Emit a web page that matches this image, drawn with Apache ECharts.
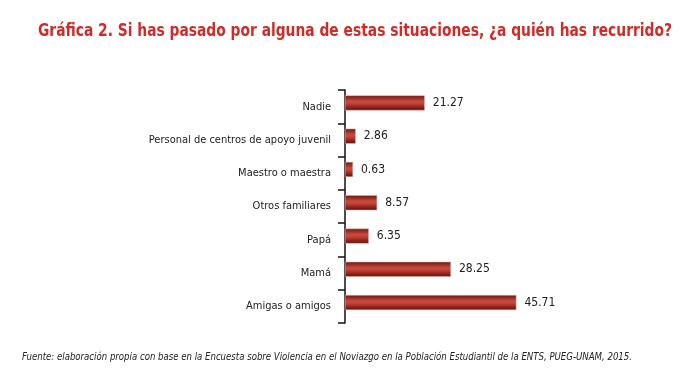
<!DOCTYPE html>
<html><head><meta charset="utf-8">
<script src="https://cdn.jsdelivr.net/npm/echarts@6/dist/echarts.min.js"></script>
<style>html,body{margin:0;padding:0;background:#fff}#c{width:690px;height:381px}</style>
</head><body><div id="c"></div>
<script>
const categories = ['Nadie','Personal de centros de apoyo juvenil','Maestro o maestra','Otros familiares','Papá','Mamá','Amigas o amigos'];
const values = [21.27, 2.86, 0.63, 8.57, 6.35, 28.25, 45.71];
const titleText = 'Gráfica 2. Si has pasado por alguna de estas situaciones, ¿a quién has recurrido?';
const sourceText = 'Fuente: elaboración propia con base en la Encuesta sobre Violencia en el Noviazgo en la Población Estudiantil de la ENTS, PUEG-UNAM, 2015.';

function fitScale(text, font, target){
  const ctx = document.createElement('canvas').getContext('2d');
  ctx.font = font;
  return target / ctx.measureText(text).width;
}
const titleFont = 'bold 17px "DejaVu Sans Condensed"';
const srcFont = 'italic 10px "DejaVu Sans Condensed"';
const titleScale = fitScale(titleText, titleFont, 634);
const srcScale = fitScale(sourceText, srcFont, 610);

const chart = echarts.init(document.getElementById('c'));
const barColor = new echarts.graphic.LinearGradient(0,0,0,1,[
  {offset:0,color:'#6e1410'},
  {offset:0.15,color:'#8e2a22'},
  {offset:0.4,color:'#c94a3e'},
  {offset:0.55,color:'#c24236'},
  {offset:0.8,color:'#8f2219'},
  {offset:1,color:'#5e0f0c'}
]);
chart.setOption({
  animation:false,
  graphic:[{
    type:'text', x:38, y:23, scaleX:titleScale,
    style:{text:titleText, fill:'#d42a27', font:titleFont}
  },{
    type:'text', x:22, y:352, scaleX:srcScale,
    style:{text:sourceText, fill:'#222', font:srcFont}
  }],
  grid:{left:345, top:90, width:187.5, height:233},
  xAxis:{type:'value',min:0,max:50,show:false},
  yAxis:{
    type:'category', data:categories, inverse:true,
    axisLine:{show:true,onZero:false,lineStyle:{color:'#111',width:1.5}},
    axisTick:{show:true,length:7,lineStyle:{color:'#111',width:1.5}},
    axisLabel:{color:'#222',fontSize:11,margin:14,padding:[6,0,0,0],fontFamily:'DejaVu Sans Condensed'},
    splitLine:{show:false}
  },
  series:[{
    type:'bar', data:values, barWidth:15, barGap:'-50%', barMinHeight:8,
    itemStyle:{color:barColor, borderColor:'#e6b3aa', borderWidth:0.5},
    label:{show:true,position:'right',distance:8,color:'#222',fontSize:12,fontFamily:'DejaVu Sans Condensed',formatter:p=>p.value.toFixed(2)}
  },{
    type:'bar', data:[], barWidth:15, silent:true
  }]
});
</script></body></html>
